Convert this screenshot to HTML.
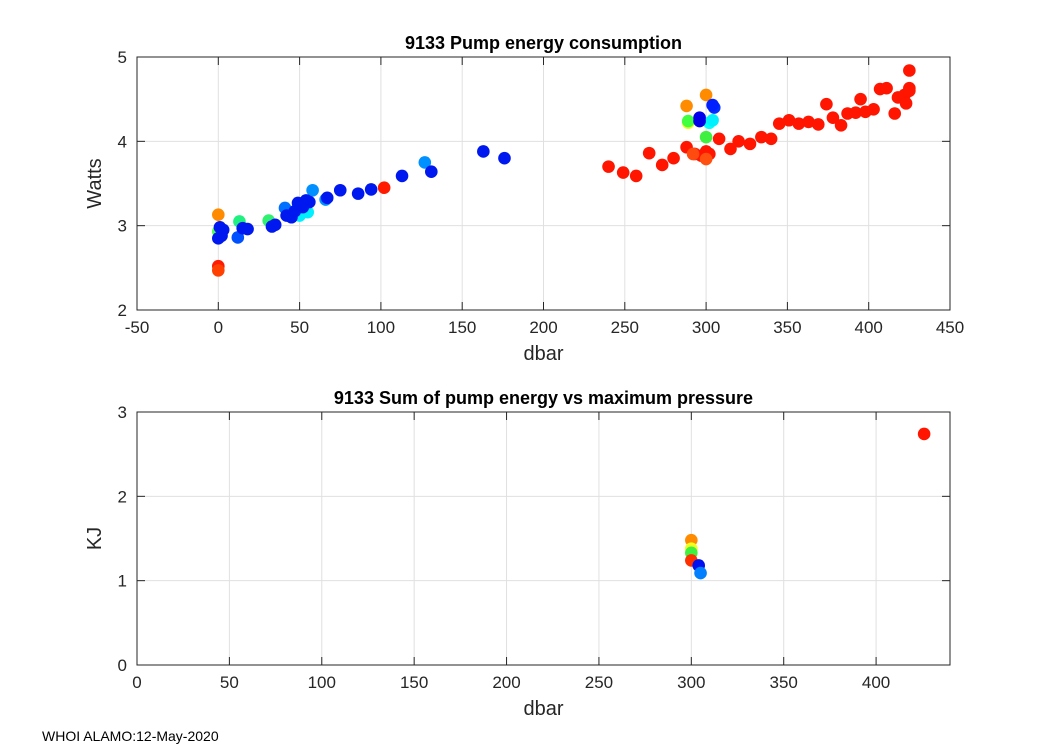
<!DOCTYPE html>
<html><head><meta charset="utf-8"><style>
body{margin:0;background:#fff;}
svg{display:block;font-family:"Liberation Sans",Arial,sans-serif;}
</style></head><body>
<svg id="fig" width="1050" height="750" viewBox="0 0 1050 750">
<rect width="1050" height="750" fill="#fff"/>
<g id="top"></g>
<g id="bot"></g>
<text x="42" y="741" font-size="14">WHOI ALAMO:12-May-2020</text>
</svg>
<script>
const topX = [0,0,102,240,249,257,265,273,280,288,293,297,300,302,308,315,320,327,334,340,345,351,357,363,369,374,378,383,387,392,395,398,403,407,411,416,418,422,423,425,425,425,
 0,288,300,292,300, 289,289,300,13,31,0, 302,304,50,55, 58,66,41,127,12,
 15,18,0,2,1,3,33,35,42,45,47,49,52,54,56,75,86,94,113,67,131,163,176,296,305,304,296];
const topY = [2.52,2.47,3.45,3.70,3.63,3.59,3.86,3.72,3.80,3.93,3.85,3.83,3.88,3.85,4.03,3.91,4.00,3.97,4.05,4.03,4.21,4.25,4.21,4.23,4.20,4.44,4.28,4.19,4.33,4.34,4.50,4.35,4.38,4.62,4.63,4.33,4.52,4.55,4.45,4.63,4.60,4.84,
 3.13,4.42,4.55,3.85,3.79, 4.22,4.24,4.05,3.05,3.06,2.93, 4.22,4.25,3.12,3.16, 3.42,3.31,3.21,3.75,2.86,
 2.97,2.96,2.85,2.88,2.98,2.95,2.99,3.01,3.12,3.10,3.17,3.27,3.22,3.30,3.28,3.42,3.38,3.43,3.59,3.33,3.64,3.88,3.80,4.28,4.40,4.43,4.24];
const topC = ["#ff1a00","#ff4000","#ff1a00"].concat(Array(39).fill("#ff1500"),
 ["#ff8c00","#ff8c00","#ff8c00","#ff4a10","#ff5010","#e8ff20","#40ff40","#40f040","#20f080","#30f070","#50ff50",
  "#00ffff","#00f0ff","#00f0ff","#00f0ff","#0090ff","#0090ff","#0070ff","#0090ff","#0050ff"],
 Array(23).fill("#0018f0"),["#0000f0","#0030ff","#0020ff","#0000e8"]);
const botX = [426,300,300,300,300,304,305];
const botY = [2.74,1.48,1.38,1.33,1.24,1.18,1.09];
const botC = ["#ff1500","#ff8c00","#f0ff20","#40f040","#ff3000","#0010f0","#0080ff"];
const topXTicks=[-50,0,50,100,150,200,250,300,350,400,450];
const topYTicks=[2,3,4,5];
const botXTicks=[0,50,100,150,200,250,300,350,400];
const botYTicks=[0,1,2,3];
const NS="http://www.w3.org/2000/svg";
function mk(p,tag,a){const e=document.createElementNS(NS,tag);for(const k in a)e.setAttribute(k,a[k]);p.appendChild(e);return e;}
function chart(g,L,T,W,H,x0,x1,y0,y1,xt,yt,xs,ys,cs,title,ylab){
 const sx=v=>L+(v-x0)/(x1-x0)*W, sy=v=>T+H-(v-y0)/(y1-y0)*H;
 mk(g,'rect',{x:L,y:T,width:W,height:H,fill:'#fff'});
 xt.forEach(v=>{const l=mk(g,'line',{x1:sx(v),x2:sx(v),y1:T,y2:T+H,stroke:'#e0e0e0'});});
 yt.forEach(v=>{const l=mk(g,'line',{x1:L,x2:L+W,y1:sy(v),y2:sy(v),stroke:'#e0e0e0'});});
 xs.forEach((v,i)=>{const c=mk(g,'circle',{cx:sx(v),cy:sy(ys[i]),r:6.3,fill:cs[i]});});
 const b=mk(g,'rect',{x:L,y:T,width:W,height:H,fill:'none',stroke:'#262626'});
 xt.forEach(v=>{mk(g,'line',{x1:sx(v),x2:sx(v),y1:T+H,y2:T+H-8,stroke:'#262626'});mk(g,'line',{x1:sx(v),x2:sx(v),y1:T,y2:T+8,stroke:'#262626'});
  const t=mk(g,'text',{x:sx(v),y:T+H+23,'font-size':17,'text-anchor':'middle',fill:'#262626'});t.textContent=v;});
 yt.forEach(v=>{mk(g,'line',{x1:L,x2:L+8,y1:sy(v),y2:sy(v),stroke:'#262626'});mk(g,'line',{x1:L+W,x2:L+W-8,y1:sy(v),y2:sy(v),stroke:'#262626'});
  const t=mk(g,'text',{x:L-10,y:sy(v)+6,'font-size':17,'text-anchor':'end',fill:'#262626'});t.textContent=v;});
 const tt=mk(g,'text',{x:L+W/2,y:T-8,'font-size':18,'font-weight':'bold','text-anchor':'middle'});tt.textContent=title;
 const xl=mk(g,'text',{x:L+W/2,y:T+H+50,'font-size':20,'text-anchor':'middle',fill:'#262626'});xl.textContent='dbar';
 const yl=mk(g,'text',{x:0,y:0,'font-size':20,'text-anchor':'middle',fill:'#262626',transform:`translate(${L-36},${T+H/2}) rotate(-90)`});yl.textContent=ylab;
}
chart(document.getElementById('top'),137,57,813,253,-50,450,2,5,topXTicks,topYTicks,topX,topY,topC,'9133 Pump energy consumption','Watts');
chart(document.getElementById('bot'),137,412,813,253,0,440,0,3,botXTicks,botYTicks,botX,botY,botC,'9133 Sum of pump energy vs maximum pressure','KJ');
</script>
</body></html>
